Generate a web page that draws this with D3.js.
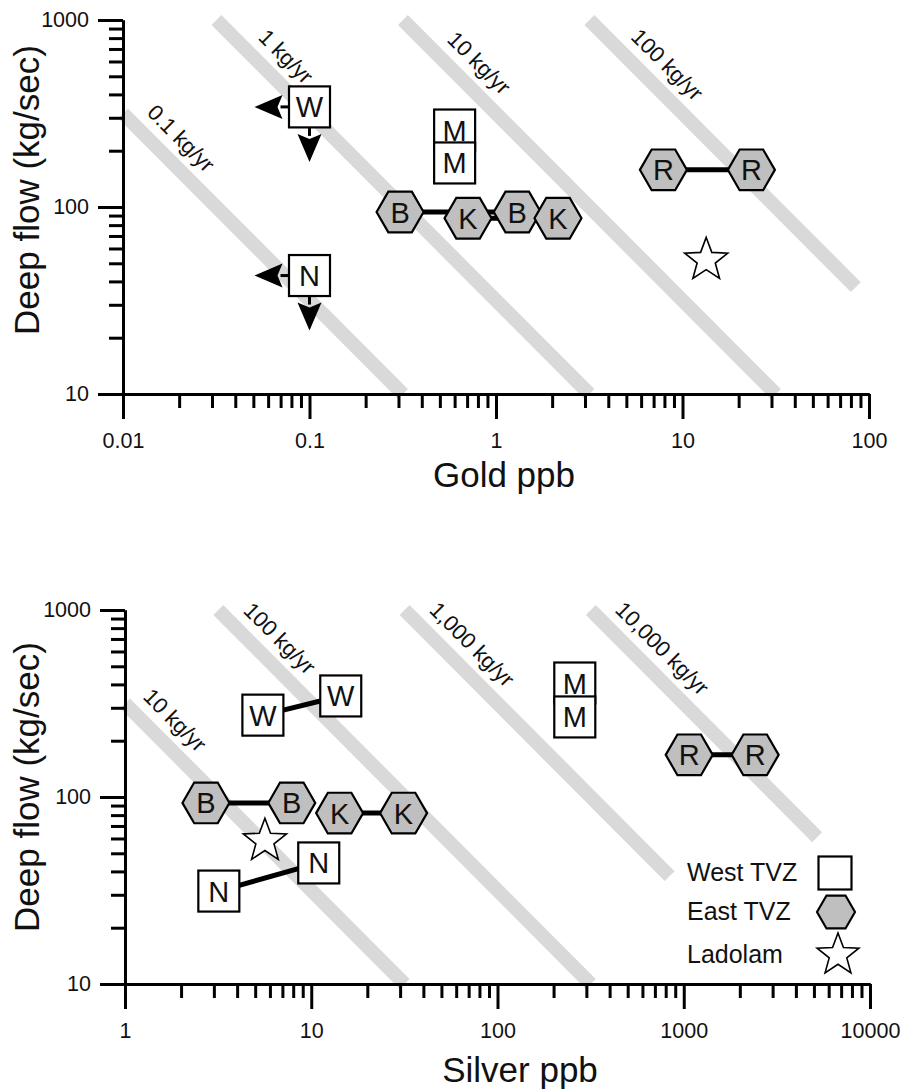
<!DOCTYPE html>
<html>
<head>
<meta charset="utf-8">
<script src="https://cdn.jsdelivr.net/npm/d3@7"></script>
<style>
  body { margin: 0; background: #fff; }
  svg { display: block; font-family: "Liberation Sans", Arial, sans-serif; }
</style>
</head>
<body>
<svg id="chart" width="909" height="1091"></svg>
<script>
// ---- data ----
var flowTicks = [10, 100, 1000];

// gold panel
var goldTicks = [0.01, 0.1, 1, 10, 100];
var goldRates = [0.1, 1, 10, 100];                 // kg/yr
var goldRateLabels = ['0.1 kg/yr', '1 kg/yr', '10 kg/yr', '100 kg/yr'];
var goldRateStart = [0.01, 0.0317, 0.317, 3.17];   // ppb where band starts
var goldRateEnd = [0.317, 3.17, 31.7, 85];         // ppb where band stops
var goldRateLabelFlow = [190, 520, 480, 470];      // kg/s at label centre
var goldLimits = [
  { site: 'W', ppb: 0.1, flow: 343 },
  { site: 'N', ppb: 0.1, flow: 43 }
];
var goldWest = [
  { site: 'M', ppb: 0.6, flow: 258 },
  { site: 'M', ppb: 0.6, flow: 172 }
];
var goldWestPairs = [];
var goldEastPairs = [
  { site: 'B', a: [0.306, 94], b: [1.3, 94] },
  { site: 'K', a: [0.708, 87], b: [2.15, 87] },
  { site: 'R', a: [7.9, 158], b: [23.4, 158] }
];
var goldStars = [[13.4, 52]];

// silver panel
var silverTicks = [1, 10, 100, 1000, 10000];
var silverRates = [10, 100, 1000, 10000];
var silverRateLabels = ['10 kg/yr', '100 kg/yr', '1,000 kg/yr', '10,000 kg/yr'];
var silverRateStart = [1, 3.17, 31.7, 317];
var silverRateEnd = [31.7, 317, 840, 5200];
var silverRateLabelFlow = [210, 575, 533, 508];
var silverWest = [
  { site: 'M', ppb: 260, flow: 407 },
  { site: 'M', ppb: 260, flow: 268 }
];
var silverWestPairs = [
  { site: 'W', a: [5.5, 274], b: [14.4, 347] },
  { site: 'N', a: [3.19, 31.4], b: [10.97, 44.4] }
];
var silverEastPairs = [
  { site: 'B', a: [2.72, 93], b: [7.86, 93] },
  { site: 'K', a: [14.2, 82], b: [31.3, 82] },
  { site: 'R', a: [1070, 168], b: [2417, 168] }
];
var silverStars = [[5.64, 58.2]];

var legendLabels = ['West TVZ', 'East TVZ', 'Ladolam'];

// ppb * kg/s -> kg/yr
var SEC_PER_YR = 31557600;
function rateConst(kgPerYr) { return kgPerYr * 1e9 / SEC_PER_YR; }

var svg = d3.select('#chart');

var BAND = '#d9d9d9';
var HEX_FILL = '#bfbfbf';
var SQ = 41, HEX_R = 23.5, STAR_R = 22.7;
var LETTER = 29;

function hexPath(r) {
  var pts = d3.range(6).map(function (i) {
    var a = i * Math.PI / 3;
    return [r * Math.cos(a), r * Math.sin(a)];
  });
  return 'M' + pts.join('L') + 'Z';
}

function starPath(R) {
  var r = R * 0.42, pts = [];
  for (var i = 0; i < 10; i++) {
    var a = -Math.PI / 2 + i * Math.PI / 5;
    var rr = i % 2 ? r : R;
    pts.push([rr * Math.cos(a), rr * Math.sin(a)]);
  }
  return 'M' + pts.join('L') + 'Z';
}

function drawSquare(g, cx, cy, size, letter) {
  var s = g.append('g').attr('transform', 'translate(' + cx + ',' + cy + ')');
  s.append('rect')
    .attr('x', -size / 2).attr('y', -size / 2)
    .attr('width', size).attr('height', size)
    .attr('fill', '#fff').attr('stroke', '#000').attr('stroke-width', 2.2);
  if (letter) {
    s.append('text').text(letter)
      .attr('text-anchor', 'middle').attr('y', 10.5)
      .attr('font-size', LETTER).attr('fill', '#111');
  }
}

function drawHex(g, cx, cy, r, letter) {
  var s = g.append('g').attr('transform', 'translate(' + cx + ',' + cy + ')');
  s.append('path').attr('d', hexPath(r))
    .attr('fill', HEX_FILL).attr('stroke', '#000').attr('stroke-width', 2.2)
    .attr('stroke-linejoin', 'miter');
  if (letter) {
    s.append('text').text(letter)
      .attr('text-anchor', 'middle').attr('y', 10.5)
      .attr('font-size', LETTER).attr('fill', '#111');
  }
}

function drawStar(g, cx, cy, R) {
  g.append('path').attr('d', starPath(R))
    .attr('transform', 'translate(' + cx + ',' + cy + ')')
    .attr('fill', '#fff').attr('stroke', '#000').attr('stroke-width', 1.6)
    .attr('stroke-linejoin', 'miter');
}

// left and down arrows for upper-limit points
function drawLimitArrows(g, cx, cy) {
  var reach = 55, headLen = 28, headHalf = 12, notch = 5;
  g.append('line')
    .attr('x1', cx - SQ / 2).attr('y1', cy)
    .attr('x2', cx - reach + headLen - 2).attr('y2', cy)
    .attr('stroke', '#000').attr('stroke-width', 3);
  g.append('path')
    .attr('d', 'M' + (cx - reach) + ',' + cy +
      'L' + (cx - reach + headLen) + ',' + (cy - headHalf) +
      'L' + (cx - reach + headLen - notch) + ',' + cy +
      'L' + (cx - reach + headLen) + ',' + (cy + headHalf) + 'Z')
    .attr('fill', '#000');
  g.append('line')
    .attr('x1', cx).attr('y1', cy + SQ / 2)
    .attr('x2', cx).attr('y2', cy + reach - headLen + 2)
    .attr('stroke', '#000').attr('stroke-width', 3);
  g.append('path')
    .attr('d', 'M' + cx + ',' + (cy + reach) +
      'L' + (cx - headHalf) + ',' + (cy + reach - headLen) +
      'L' + cx + ',' + (cy + reach - headLen + notch) +
      'L' + (cx + headHalf) + ',' + (cy + reach - headLen) + 'Z')
    .attr('fill', '#000');
}

function drawPanel(p) {
  var x = d3.scaleLog().domain([p.xTicks[0], p.xTicks[p.xTicks.length - 1]]).range([p.left, p.right]);
  var y = d3.scaleLog().domain([flowTicks[0], flowTicks[flowTicks.length - 1]]).range([p.bottom, p.top]);
  var g = svg.append('g');

  // constant-flux bands
  var bands = g.append('g');
  p.rates.forEach(function (rate, i) {
    var K = rateConst(rate);
    var c0 = p.rateStart[i], c1 = p.rateEnd[i];
    bands.append('line')
      .attr('x1', x(c0)).attr('y1', y(K / c0))
      .attr('x2', x(c1)).attr('y2', y(K / c1))
      .attr('stroke', BAND).attr('stroke-width', 14).attr('stroke-linecap', 'butt');
    var fl = p.rateLabelFlow[i];
    var px = x(K / fl) + 23 / Math.SQRT2, py = y(fl) - 23 / Math.SQRT2;
    bands.append('text').text(p.rateLabels[i])
      .attr('transform', 'translate(' + px + ',' + py + ') rotate(45)')
      .attr('text-anchor', 'middle').attr('dy', '0.32em')
      .attr('font-size', 22).attr('fill', '#111');
  });

  // axes: majors with labels, minors short
  var majorX = p.xTicks, majorY = flowTicks;
  var minorX = x.ticks().filter(function (t) { return majorX.indexOf(t) < 0; });
  var minorY = y.ticks().filter(function (t) { return majorY.indexOf(t) < 0; });

  var xa = g.append('g').attr('transform', 'translate(0,' + p.bottom + ')')
    .call(d3.axisBottom(x).tickValues(majorX).tickSize(25).tickSizeOuter(0).tickPadding(14)
      .tickFormat(function (d) { return String(d); }));
  var xm = g.append('g').attr('transform', 'translate(0,' + p.bottom + ')')
    .call(d3.axisBottom(x).tickValues(minorX).tickSize(14).tickSizeOuter(0).tickFormat(''));
  var ya = g.append('g').attr('transform', 'translate(' + p.left + ',0)')
    .call(d3.axisLeft(y).tickValues(majorY).tickSize(25).tickSizeOuter(0).tickPadding(9)
      .tickFormat(function (d) { return String(d); }));
  var ym = g.append('g').attr('transform', 'translate(' + p.left + ',0)')
    .call(d3.axisLeft(y).tickValues(minorY).tickSize(14).tickSizeOuter(0).tickFormat(''));
  [xa, xm, ya, ym].forEach(function (a) {
    a.selectAll('path.domain').attr('stroke', '#000').attr('stroke-width', 3);
    a.selectAll('.tick line').attr('stroke', '#000').attr('stroke-width', 3);
    a.selectAll('.tick text').attr('font-size', 21.5).attr('fill', '#111')
      .attr('font-family', '"Liberation Sans", Arial, sans-serif');
  });

  // axis titles
  g.append('text').text('Deep flow (kg/sec)')
    .attr('transform', 'translate(39,' + p.yTitleY + ') rotate(-90)')
    .attr('text-anchor', 'middle').attr('font-size', 35).attr('fill', '#111');
  g.append('text').text(p.xTitle)
    .attr('x', p.xTitleX).attr('y', p.bottom + p.xTitleDy)
    .attr('text-anchor', 'middle').attr('font-size', 35).attr('fill', '#111');

  // connecting lines for pairs
  var links = g.append('g');
  p.westPairs.concat(p.eastPairs).forEach(function (d) {
    links.append('line')
      .attr('x1', x(d.a[0])).attr('y1', y(d.a[1]))
      .attr('x2', x(d.b[0])).attr('y2', y(d.b[1]))
      .attr('stroke', '#000').attr('stroke-width', 5);
  });

  var marks = g.append('g');
  // upper limits (below detection)
  p.limits.forEach(function (d) {
    drawLimitArrows(marks, x(d.ppb), y(d.flow));
    drawSquare(marks, x(d.ppb), y(d.flow), SQ, d.site);
  });
  // west TVZ squares
  var west = p.west.map(function (d) { return [d.ppb, d.flow, d.site]; });
  p.westPairs.forEach(function (d) { west.push([d.a[0], d.a[1], d.site], [d.b[0], d.b[1], d.site]); });
  west.forEach(function (d) { drawSquare(marks, x(d[0]), y(d[1]), SQ, d[2]); });
  // east TVZ hexagons, left to right
  var east = [];
  p.eastPairs.forEach(function (d) { east.push([d.a[0], d.a[1], d.site], [d.b[0], d.b[1], d.site]); });
  east.sort(function (a, b) { return a[0] - b[0]; });
  east.forEach(function (d) { drawHex(marks, x(d[0]), y(d[1]), HEX_R, d[2]); });
  // Ladolam
  p.stars.forEach(function (d) { drawStar(marks, x(d[0]), y(d[1]), STAR_R); });

  return g;
}

drawPanel({
  left: 123, right: 869, top: 20, bottom: 394,
  xTicks: goldTicks, rates: goldRates, rateLabels: goldRateLabels,
  rateStart: goldRateStart, rateEnd: goldRateEnd, rateLabelFlow: goldRateLabelFlow,
  limits: goldLimits, west: goldWest, westPairs: goldWestPairs,
  eastPairs: goldEastPairs, stars: goldStars,
  xTitle: 'Gold ppb', xTitleX: 504, xTitleDy: 93, yTitleY: 190
});

var silver = drawPanel({
  left: 125, right: 870, top: 610, bottom: 984,
  xTicks: silverTicks, rates: silverRates, rateLabels: silverRateLabels,
  rateStart: silverRateStart, rateEnd: silverRateEnd, rateLabelFlow: silverRateLabelFlow,
  limits: [], west: silverWest, westPairs: silverWestPairs,
  eastPairs: silverEastPairs, stars: silverStars,
  xTitle: 'Silver ppb', xTitleX: 520, xTitleDy: 98, yTitleY: 787
});

// legend
var legend = silver.append('g').attr('transform', 'translate(687,873)');
var rowY = [0, 39, 82];
legendLabels.forEach(function (t, i) {
  legend.append('text').text(t)
    .attr('x', 0).attr('y', rowY[i] + 8)
    .attr('font-size', 25).attr('fill', '#111');
});
drawSquare(legend, 148, rowY[0], 33, '');
drawHex(legend, 149, rowY[1], 19, '');
drawStar(legend, 151, rowY[2], 22);
</script>
</body>
</html>
